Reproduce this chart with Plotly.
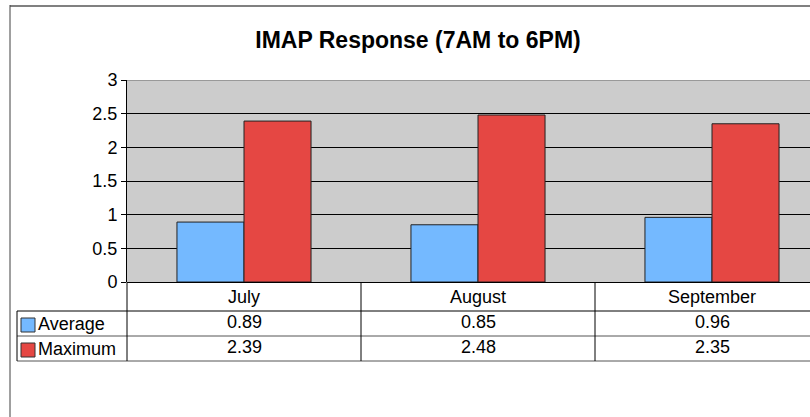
import plotly.graph_objects as go

categories = ["July", "August", "September"]
average = [0.89, 0.85, 0.96]
maximum = [2.39, 2.48, 2.35]
series_names = ["Average", "Maximum"]
title_text = "IMAP Response (7AM to 6PM)"

W, H = 810, 417
L, R, T = 127, 0, 80
B = H - 282
PW = W - L - R
PH = H - T - B
COLW = 234.0

def px2x(px):
    return (px - L) / PW

def py2y(py):
    return (T + PH - py) / PH

BLUE = "#74B9FF"
RED = "#E54743"
FONT = "Liberation Sans, Arial, sans-serif"
FS = 18

fig = go.Figure()
fig.add_trace(go.Bar(x=categories, y=average, name=series_names[0],
                     marker=dict(color=BLUE, line=dict(color="#222222", width=1))))
fig.add_trace(go.Bar(x=categories, y=maximum, name=series_names[1],
                     marker=dict(color=RED, line=dict(color="#222222", width=1))))

shapes = []
line_dark = dict(color="#000000", width=1)
# outer chart border
shapes.append(dict(type="line", xref="paper", yref="paper", x0=px2x(10), x1=px2x(812),
                   y0=py2y(6), y1=py2y(6), line=dict(color="#808080", width=2)))
shapes.append(dict(type="line", xref="paper", yref="paper", x0=px2x(10), x1=px2x(10),
                   y0=py2y(5), y1=py2y(420), line=dict(color="#404040", width=1)))
# top plot border (gray)
shapes.append(dict(type="line", xref="paper", yref="y", x0=0, x1=1, y0=3, y1=3,
                   line=dict(color="#999999", width=2)))
# table horizontal lines
for py, col in [(311, "#000000"), (336, "#555555"), (361, "#555555")]:
    shapes.append(dict(type="line", xref="paper", yref="paper", x0=px2x(17), x1=px2x(812),
                       y0=py2y(py), y1=py2y(py), line=dict(color=col, width=1)))
# table vertical lines at category boundaries
for i in range(len(categories)):
    xb = 127 + i * COLW
    shapes.append(dict(type="line", xref="paper", yref="paper", x0=px2x(xb), x1=px2x(xb),
                       y0=py2y(282), y1=py2y(361), line=line_dark))
shapes.append(dict(type="line", xref="paper", yref="paper", x0=px2x(17), x1=px2x(17),
                   y0=py2y(311), y1=py2y(361), line=line_dark))
# legend keys
for (y0p, y1p, col) in [(318, 332, BLUE), (343, 357, RED)]:
    shapes.append(dict(type="rect", xref="paper", yref="paper", x0=px2x(21), x1=px2x(35),
                       y0=py2y(y1p), y1=py2y(y0p), fillcolor=col,
                       line=dict(color="#333333", width=1)))

annotations = []
for i, c in enumerate(categories):
    xc = px2x(127 + (i + 0.5) * COLW)
    annotations.append(dict(text=c, xref="paper", yref="paper", x=xc, y=py2y(297),
                            showarrow=False, xanchor="center", yanchor="middle",
                            font=dict(size=FS, color="#000", family=FONT)))
    annotations.append(dict(text=f"{average[i]:.2f}", xref="paper", yref="paper", x=xc, y=py2y(322),
                            showarrow=False, xanchor="center", yanchor="middle",
                            font=dict(size=FS, color="#000", family=FONT)))
    annotations.append(dict(text=f"{maximum[i]:.2f}", xref="paper", yref="paper", x=xc, y=py2y(347),
                            showarrow=False, xanchor="center", yanchor="middle",
                            font=dict(size=FS, color="#000", family=FONT)))
for name, py in [(series_names[0], 324), (series_names[1], 349)]:
    annotations.append(dict(text=name, xref="paper", yref="paper", x=px2x(36), y=py2y(py),
                            showarrow=False, xanchor="left", yanchor="middle",
                            font=dict(size=FS, color="#000", family=FONT)))

fig.update_layout(
    width=W, height=H,
    margin=dict(l=L, r=R, t=T, b=B, pad=0),
    paper_bgcolor="white",
    plot_bgcolor="#CCCCCC",
    barmode="group",
    bargap=0.427,
    bargroupgap=0,
    showlegend=False,
    title=dict(text="<b>" + title_text + "</b>", x=418 / W, xanchor="center",
               y=1 - 40 / H, yanchor="middle", xref="container", yref="container",
               font=dict(size=23, color="#000", family=FONT)),
    xaxis=dict(type="category", range=[-0.5, -0.5 + PW / COLW], showticklabels=False,
               showgrid=False, ticks="", zeroline=False, showline=False, fixedrange=True),
    yaxis=dict(range=[0, 3], dtick=0.5, showgrid=True, gridcolor="#000000", gridwidth=1,
               ticks="outside", ticklen=5, tickcolor="#000000", tickwidth=1,
               showline=True, linecolor="#000000", linewidth=1,
               zeroline=True, zerolinecolor="#000000", zerolinewidth=1,
               tickfont=dict(size=FS, color="#000", family=FONT)),
    shapes=shapes,
    annotations=annotations,
    font=dict(family=FONT, color="#000"),
)

fig.write_html("out.html", config={"displayModeBar": False},
               post_script="document.body.style.margin='0';document.body.style.overflow='hidden';")
